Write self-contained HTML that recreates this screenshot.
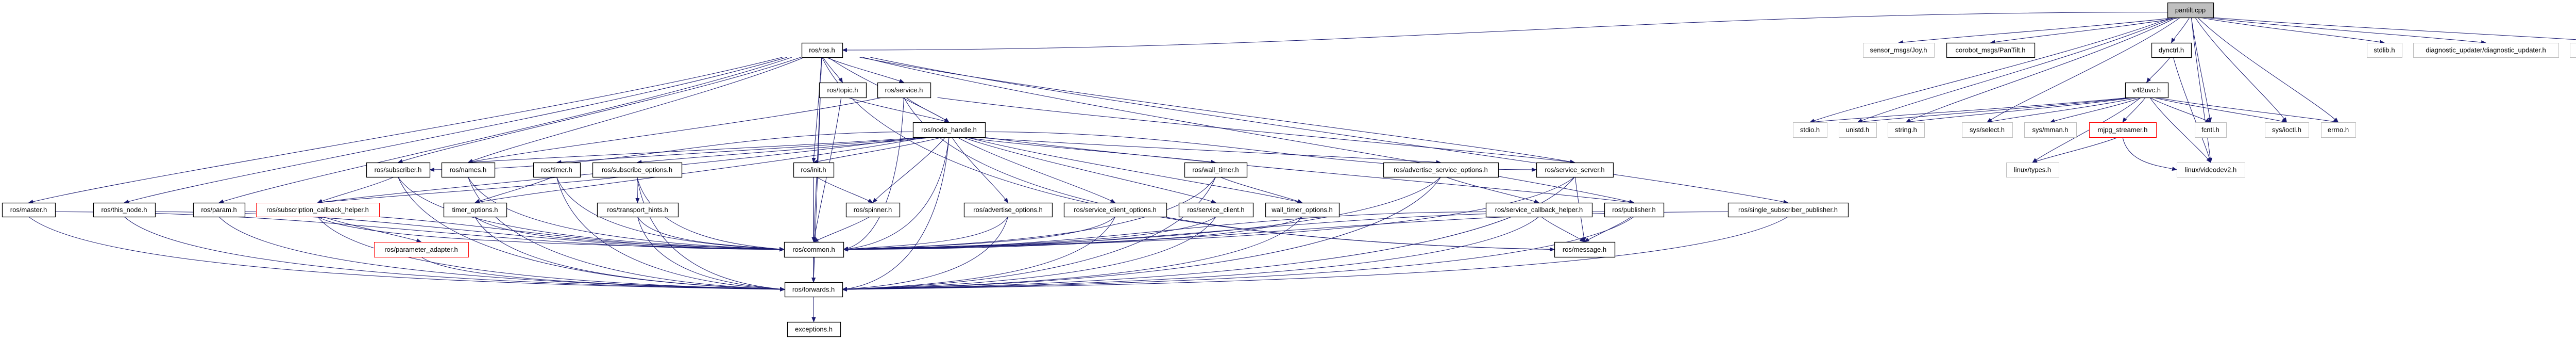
<!DOCTYPE html>
<html><head><meta charset="utf-8"><style>
html,body{margin:0;padding:0;background:#fff;}
svg{display:block;}
text{font-family:"Liberation Sans",sans-serif;font-size:13px;}
</style></head><body>
<svg id="g" width="5211" height="659" viewBox="0 0 5211 659" xmlns="http://www.w3.org/2000/svg">
<defs><marker id="a" markerWidth="10" markerHeight="8" refX="9" refY="4" orient="auto" markerUnits="userSpaceOnUse"><path d="M0,0 L10,4 L0,8 z" fill="#191970"/></marker></defs>
<g id="edges" fill="none" stroke="#191970" stroke-width="1"></g>
<g id="nodes"></g>
</svg>
<script>
var N={
pantilt:[4207,4296,5,34,"pantilt.cpp","f"],
ros:[1556,1635,83,111,"ros/ros.h"],
joy:[3616,3754,83,111,"sensor_msgs/Joy.h","g"],
pan:[3778,3949,83,111,"corobot_msgs/PanTilt.h"],
dyn:[4176,4253,83,111,"dynctrl.h"],
stdlib:[4594,4662,83,111,"stdlib.h","g"],
du:[4684,4966,83,111,"diagnostic_updater/diagnostic_updater.h","g"],
dp:[4988,5206,83,111,"diagnostic_updater/publisher.h","g"],
topic:[1590,1681,160,189,"ros/topic.h"],
service:[1703,1806,160,189,"ros/service.h"],
v4l:[4125,4208,160,189,"v4l2uvc.h"],
nh:[1772,1912,237,266,"ros/node_handle.h"],
stdio:[3480,3546,237,266,"stdio.h","g"],
unistd:[3569,3642,237,266,"unistd.h","g"],
string:[3664,3735,237,266,"string.h","g"],
select:[3808,3906,237,266,"sys/select.h","g"],
mman:[3929,4030,237,266,"sys/mman.h","g"],
mjpg:[4055,4185,237,266,"mjpg_streamer.h","r"],
fcntl:[4260,4321,237,266,"fcntl.h","g"],
ioctl:[4396,4481,237,266,"sys/ioctl.h","g"],
errno:[4505,4572,237,266,"errno.h","g"],
sub:[711,834,315,343,"ros/subscriber.h"],
names:[857,960,315,343,"ros/names.h"],
timer:[1035,1126,315,343,"ros/timer.h"],
subopt:[1150,1323,315,343,"ros/subscribe_options.h"],
init:[1540,1618,315,343,"ros/init.h"],
wt:[2299,2420,315,343,"ros/wall_timer.h"],
aso:[2685,2908,315,343,"ros/advertise_service_options.h"],
ss:[2982,3131,315,343,"ros/service_server.h"],
types:[3894,3996,315,343,"linux/types.h","g"],
vd:[4225,4357,315,343,"linux/videodev2.h","g"],
master:[4,107,393,420,"ros/master.h"],
thisn:[181,301,393,420,"ros/this_node.h"],
param:[375,475,393,420,"ros/param.h"],
sch:[497,736,393,420,"ros/subscription_callback_helper.h","r"],
to:[861,983,393,420,"timer_options.h"],
th:[1159,1316,393,420,"ros/transport_hints.h"],
spin:[1642,1746,393,420,"ros/spinner.h"],
ao:[1871,2042,393,420,"ros/advertise_options.h"],
sco:[2065,2264,393,420,"ros/service_client_options.h"],
sc:[2288,2432,393,420,"ros/service_client.h"],
wto:[2456,2599,393,420,"wall_timer_options.h"],
svch:[2884,3090,393,420,"ros/service_callback_helper.h"],
pub:[3114,3229,393,420,"ros/publisher.h"],
ssp:[3354,3587,393,420,"ros/single_subscriber_publisher.h"],
pa:[726,909,469,498,"ros/parameter_adapter.h","r"],
common:[1522,1637,469,498,"ros/common.h"],
msg:[3017,3134,469,498,"ros/message.h"],
fw:[1523,1635,547,575,"ros/forwards.h"],
exc:[1528,1631,624,652,"exceptions.h"]
};
var E=[
["pantilt","ros"],["pantilt","joy"],["pantilt","pan"],["pantilt","stdio"],["pantilt","unistd"],["pantilt","string"],["pantilt","select"],["pantilt","dyn"],["pantilt","fcntl"],["pantilt","ioctl"],["pantilt","errno"],["pantilt","vd"],["pantilt","stdlib"],["pantilt","du"],["pantilt","dp"],
["dyn","v4l"],["dyn","vd"],
["v4l","stdio"],["v4l","unistd"],["v4l","string"],["v4l","select"],["v4l","mman"],["v4l","mjpg"],["v4l","fcntl"],["v4l","ioctl"],["v4l","errno"],["v4l","vd"],["v4l","types"],
["mjpg","types"],["mjpg","vd"],
["ros","master"],["ros","thisn"],["ros","param"],["ros","sub"],["ros","names"],["ros","topic"],["ros","service"],["ros","nh"],["ros","init"],["ros","common"],["ros","ss"],["ros","pub"],["ros","ssp"],["ros","fw"],["ros","msg"],
["topic","nh"],["topic","common"],["service","nh"],["service","common"],["service","names"],["service","ss"],["service","msg"],
["nh","sub"],["nh","names"],["nh","timer"],["nh","subopt"],["nh","init"],["nh","spin"],["nh","ao"],["nh","sco"],["nh","sc"],["nh","wt"],["nh","wto"],["nh","aso"],["nh","ss"],["nh","pub"],["nh","common"],["nh","fw"],["nh","to"],["nh","sch"],
["sub","sch"],["sub","common"],["sub","fw"],["names","common"],["names","fw"],
["timer","to"],["timer","common"],["timer","fw"],["subopt","sch"],["subopt","th"],["subopt","common"],["subopt","fw"],
["init","spin"],["init","common"],["init","fw"],["wt","wto"],["wt","common"],["wt","fw"],
["aso","svch"],["aso","common"],["aso","fw"],["ss","common"],["ss","msg"],["ss","fw"],
["master","common"],["master","fw"],["thisn","common"],["thisn","fw"],["param","common"],["param","fw"],
["sch","pa"],["sch","common"],["sch","fw"],["to","common"],["to","fw"],["th","common"],["th","fw"],
["spin","common"],["ao","common"],["ao","fw"],["sco","common"],["sco","fw"],["sc","common"],["sc","fw"],["wto","common"],["wto","fw"],
["svch","common"],["svch","msg"],["svch","fw"],["pub","common"],["pub","msg"],["pub","fw"],["ssp","common"],["ssp","fw"],
["pa","fw"],["common","fw"],["fw","exc"]
];
var SINK={common:1,fw:1,msg:1,vd:1};
var NS="http://www.w3.org/2000/svg";
var eg=document.getElementById("edges"),ng=document.getElementById("nodes");
E.forEach(function(e){
 var s=N[e[0]],t=N[e[1]];if(!s||!t)return;
 var sx=(s[0]+s[1])/2,tx=(t[0]+t[1])/2,d;
 var dy=t[2]-s[3],dx=tx-sx,sy=s[3];
 if(dy<60 && Math.abs(dx)>20*Math.max(dy,1)){
  var xs=dx<0?s[0]:s[1],ys=(s[2]+s[3])/2+4;
  var xt=dx<0?t[1]:t[0],yt=(t[2]+t[3])/2;
  d="M"+xs+","+ys+" C"+(xs+(xt-xs)*0.4)+","+ys+" "+(xs+(xt-xs)*0.6)+","+yt+" "+xt+","+yt;
 } else if(SINK[e[1]] && Math.abs(dx)>150){
  var sg=dx>0?1:-1;
  var xt2=dx>0?t[0]:t[1],yt2=(t[2]+t[3])/2;
  var ddx=xt2-sx;
  d="M"+sx+","+sy+" C"+(sx+ddx*0.1)+","+(sy+(yt2-sy)*0.8)+" "+(xt2-ddx*0.35)+","+(yt2-8)+" "+xt2+","+yt2;
 } else {
  var ty=t[2];
  d="M"+(sx+dx*0.05)+","+sy+" C"+(sx+dx*0.3)+","+(sy+dy*0.35)+" "+(tx-dx*0.15)+","+(ty-dy*0.2)+" "+tx+","+ty;
 }
 var p=document.createElementNS(NS,"path");p.setAttribute("d",d);p.setAttribute("marker-end","url(#a)");eg.appendChild(p);
});
for(var k in N){var n=N[k];
 var r=document.createElementNS(NS,"rect");
 r.setAttribute("x",n[0]+0.5);r.setAttribute("y",n[2]+0.5);r.setAttribute("width",n[1]-n[0]);r.setAttribute("height",n[3]-n[2]);
 var st=n[5];
 r.setAttribute("fill",st=="f"?"#bfbfbf":"#fff");
 r.setAttribute("stroke",st=="g"?"#bfbfbf":st=="r"?"#ff0000":"#000");
 r.setAttribute("stroke-width",st=="g"||st=="r"?"1":"1.3");
 ng.appendChild(r);
 var tt=document.createElementNS(NS,"text");
 tt.setAttribute("x",(n[0]+n[1])/2);tt.setAttribute("y",(n[2]+n[3])/2+4.5);
 tt.setAttribute("text-anchor","middle");tt.setAttribute("fill","#000");
 tt.textContent=n[4];ng.appendChild(tt);
}
</script>
</body></html>
